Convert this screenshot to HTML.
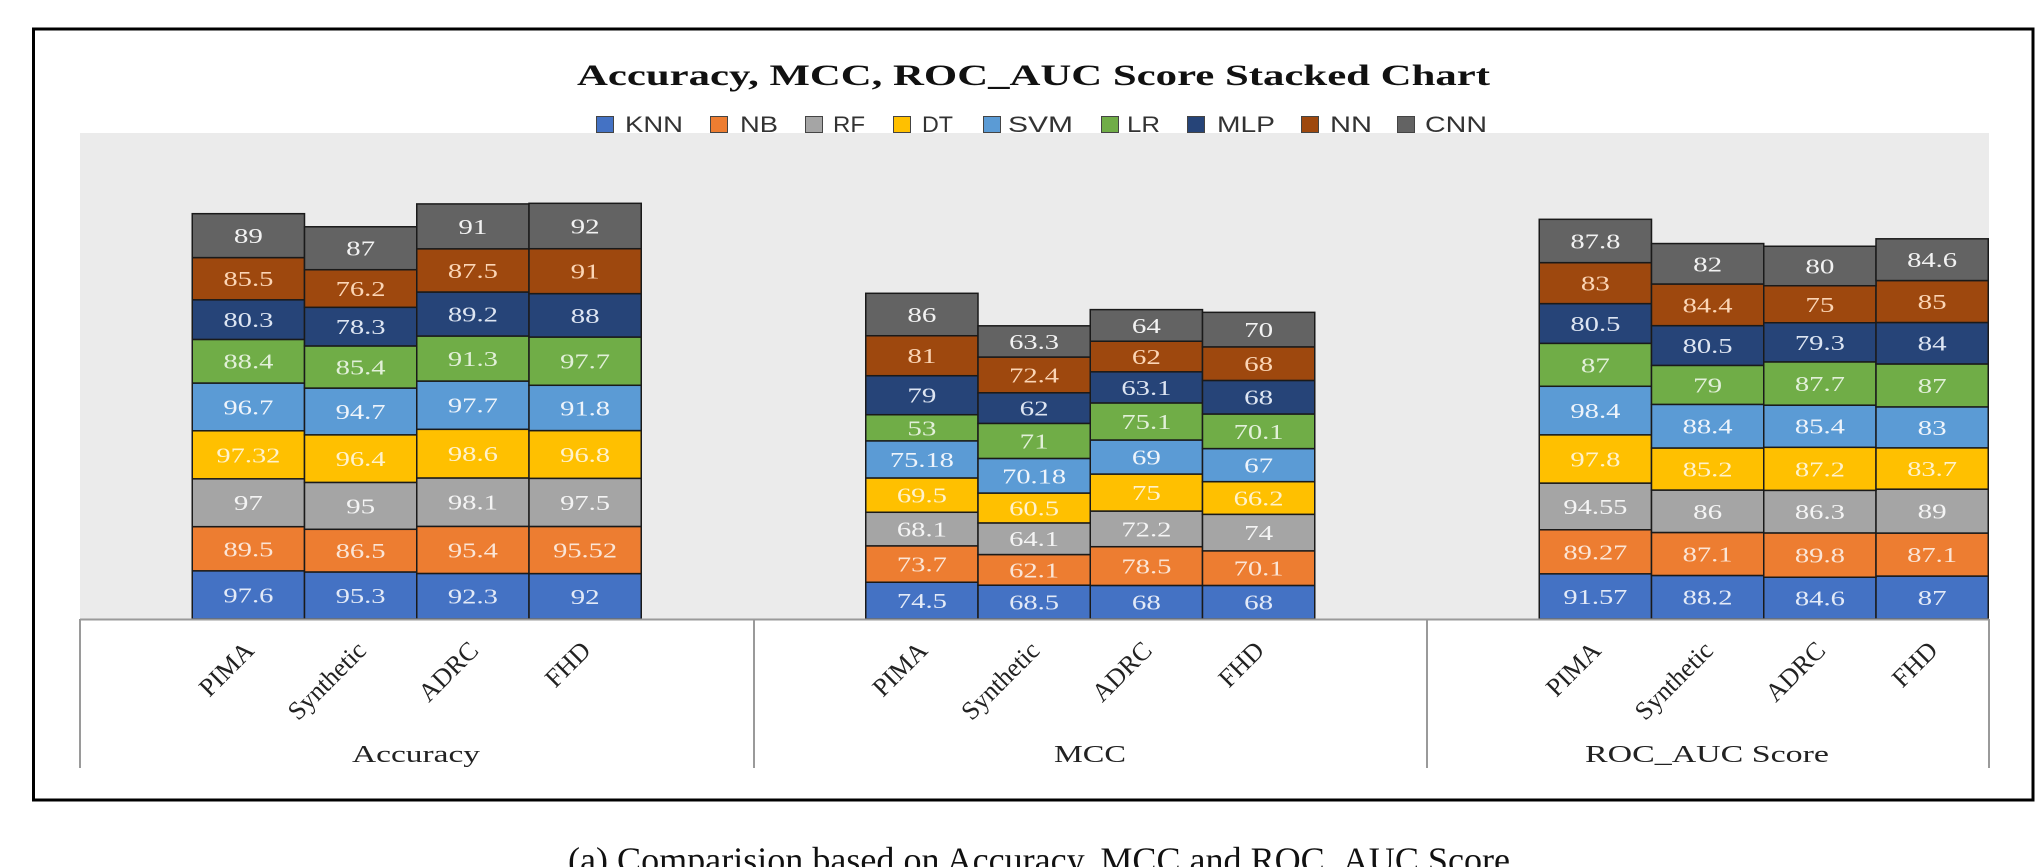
<!DOCTYPE html>
<html>
<head>
<meta charset="utf-8">
<style>
  html, body { margin: 0; padding: 0; background: #ffffff; }
  svg { display: block; }
  .k { fill: #4472C4; } .n { fill: #ED7D31; } .r { fill: #A5A5A5; } .d { fill: #FFC000; }
  .s { fill: #5B9BD5; } .l { fill: #70AD47; } .m { fill: #264478; } .nn { fill: #9E480E; } .c { fill: #636363; }
  .bars rect { stroke: #1a1a1a; stroke-width: 1.5; }
  .lbl text { font-family: "Liberation Serif", "Times New Roman", serif; font-size: 21.5px; text-anchor: middle; }
  .tk { fill: #E3EAF7; } .tn { fill: #FBE5D6; } .tr { fill: #F4F4F4; } .td { fill: #FFF2CC; }
  .ts { fill: #EEF4FB; } .tl { fill: #E2F0D9; } .tm { fill: #DDE5F2; } .tnn { fill: #FBD5B5; } .tc { fill: #F2F2F2; }
  .leg rect { stroke: #444; stroke-width: 1; }
  .leg text { font-family: "Liberation Sans", Arial, sans-serif; font-size: 22px; fill: #333333; }
  .ax text { font-family: "Liberation Serif", "Times New Roman", serif; fill: #222; }
</style>
</head>
<body>
<svg width="2037" height="867" viewBox="0 0 2037 867" xmlns="http://www.w3.org/2000/svg">
  <rect x="0" y="0" width="2037" height="867" fill="#ffffff"/>
  <!-- outer frame -->
  <rect x="33.5" y="29" width="1999.5" height="771" fill="none" stroke="#000" stroke-width="3"/>

  <!-- title -->
  <text x="577" y="85" font-family="Liberation Serif, Times New Roman, serif" font-weight="bold" font-size="30" fill="#111" textLength="913" lengthAdjust="spacingAndGlyphs">Accuracy, MCC, ROC_AUC Score Stacked Chart</text>

  <!-- plot area -->
  <rect x="80" y="133" width="1909" height="486" fill="#EBEBEB"/>

  <!-- legend (drawn above plot area) -->
  <g class="leg">
    <rect class="k" x="596.5" y="116.5" width="17" height="16"/><text x="625" y="132" textLength="58" lengthAdjust="spacingAndGlyphs">KNN</text>
    <rect class="n" x="710.5" y="116.5" width="17" height="16"/><text x="740" y="132" textLength="38" lengthAdjust="spacingAndGlyphs">NB</text>
    <rect class="r" x="805.5" y="116.5" width="17" height="16"/><text x="833" y="132" textLength="32" lengthAdjust="spacingAndGlyphs">RF</text>
    <rect class="d" x="893.5" y="116.5" width="17" height="16"/><text x="922" y="132" textLength="31" lengthAdjust="spacingAndGlyphs">DT</text>
    <rect class="s" x="983.5" y="116.5" width="17" height="16"/><text x="1008" y="132" textLength="65" lengthAdjust="spacingAndGlyphs">SVM</text>
    <rect class="l" x="1101.5" y="116.5" width="17" height="16"/><text x="1127" y="132" textLength="33" lengthAdjust="spacingAndGlyphs">LR</text>
    <rect class="m" x="1187.5" y="116.5" width="17" height="16"/><text x="1217" y="132" textLength="58" lengthAdjust="spacingAndGlyphs">MLP</text>
    <rect class="nn" x="1301.5" y="116.5" width="17" height="16"/><text x="1330" y="132" textLength="42" lengthAdjust="spacingAndGlyphs">NN</text>
    <rect class="c" x="1397.5" y="116.5" width="17" height="16"/><text x="1425" y="132" textLength="62" lengthAdjust="spacingAndGlyphs">CNN</text>
  </g>

  <!-- bars -->
  <g class="bars">
    <g class="k">
      <rect x="192.25" y="570.83" width="112.25" height="48.17"/>
      <rect x="304.5" y="571.97" width="112.25" height="47.03"/>
      <rect x="416.75" y="573.45" width="112.25" height="45.55"/>
      <rect x="529" y="573.60" width="112.25" height="45.40"/>
      <rect x="865.75" y="582.23" width="112.25" height="36.77"/>
      <rect x="978" y="585.20" width="112.25" height="33.80"/>
      <rect x="1090.25" y="585.44" width="112.25" height="33.56"/>
      <rect x="1202.5" y="585.44" width="112.25" height="33.56"/>
      <rect x="1539.25" y="573.81" width="112.25" height="45.19"/>
      <rect x="1651.5" y="575.47" width="112.25" height="43.53"/>
      <rect x="1763.75" y="577.25" width="112.25" height="41.75"/>
      <rect x="1876" y="576.07" width="112.25" height="42.93"/>
    </g>
    <g class="n">
      <rect x="192.25" y="526.67" width="112.25" height="44.16"/>
      <rect x="304.5" y="529.28" width="112.25" height="42.69"/>
      <rect x="416.75" y="526.37" width="112.25" height="47.08"/>
      <rect x="529" y="526.46" width="112.25" height="47.14"/>
      <rect x="865.75" y="545.86" width="112.25" height="36.37"/>
      <rect x="978" y="554.55" width="112.25" height="30.65"/>
      <rect x="1090.25" y="546.70" width="112.25" height="38.74"/>
      <rect x="1202.5" y="550.85" width="112.25" height="34.59"/>
      <rect x="1539.25" y="529.76" width="112.25" height="44.05"/>
      <rect x="1651.5" y="532.49" width="112.25" height="42.98"/>
      <rect x="1763.75" y="532.93" width="112.25" height="44.32"/>
      <rect x="1876" y="533.08" width="112.25" height="42.99"/>
    </g>
    <g class="r">
      <rect x="192.25" y="478.80" width="112.25" height="47.87"/>
      <rect x="304.5" y="482.40" width="112.25" height="46.88"/>
      <rect x="416.75" y="477.96" width="112.25" height="48.41"/>
      <rect x="529" y="478.34" width="112.25" height="48.12"/>
      <rect x="865.75" y="512.26" width="112.25" height="33.60"/>
      <rect x="978" y="522.92" width="112.25" height="31.63"/>
      <rect x="1090.25" y="511.07" width="112.25" height="35.63"/>
      <rect x="1202.5" y="514.33" width="112.25" height="36.52"/>
      <rect x="1539.25" y="483.10" width="112.25" height="46.66"/>
      <rect x="1651.5" y="490.05" width="112.25" height="42.44"/>
      <rect x="1763.75" y="490.35" width="112.25" height="42.58"/>
      <rect x="1876" y="489.16" width="112.25" height="43.92"/>
    </g>
    <g class="d">
      <rect x="192.25" y="430.77" width="112.25" height="48.03"/>
      <rect x="304.5" y="434.83" width="112.25" height="47.57"/>
      <rect x="416.75" y="429.30" width="112.25" height="48.66"/>
      <rect x="529" y="430.57" width="112.25" height="47.77"/>
      <rect x="865.75" y="477.96" width="112.25" height="34.30"/>
      <rect x="978" y="493.06" width="112.25" height="29.86"/>
      <rect x="1090.25" y="474.06" width="112.25" height="37.01"/>
      <rect x="1202.5" y="481.66" width="112.25" height="32.67"/>
      <rect x="1539.25" y="434.83" width="112.25" height="48.27"/>
      <rect x="1651.5" y="448.00" width="112.25" height="42.05"/>
      <rect x="1763.75" y="447.31" width="112.25" height="43.04"/>
      <rect x="1876" y="447.85" width="112.25" height="41.31"/>
    </g>
    <g class="s">
      <rect x="192.25" y="383.05" width="112.25" height="47.72"/>
      <rect x="304.5" y="388.09" width="112.25" height="46.74"/>
      <rect x="416.75" y="381.08" width="112.25" height="48.22"/>
      <rect x="529" y="385.27" width="112.25" height="45.30"/>
      <rect x="865.75" y="440.86" width="112.25" height="37.10"/>
      <rect x="978" y="458.43" width="112.25" height="34.63"/>
      <rect x="1090.25" y="440.01" width="112.25" height="34.05"/>
      <rect x="1202.5" y="448.59" width="112.25" height="33.07"/>
      <rect x="1539.25" y="386.27" width="112.25" height="48.56"/>
      <rect x="1651.5" y="404.38" width="112.25" height="43.62"/>
      <rect x="1763.75" y="405.17" width="112.25" height="42.14"/>
      <rect x="1876" y="406.89" width="112.25" height="40.96"/>
    </g>
    <g class="l">
      <rect x="192.25" y="339.42" width="112.25" height="43.63"/>
      <rect x="304.5" y="345.95" width="112.25" height="42.14"/>
      <rect x="416.75" y="336.03" width="112.25" height="45.05"/>
      <rect x="529" y="337.05" width="112.25" height="48.22"/>
      <rect x="865.75" y="414.70" width="112.25" height="26.16"/>
      <rect x="978" y="423.39" width="112.25" height="35.04"/>
      <rect x="1090.25" y="402.94" width="112.25" height="37.07"/>
      <rect x="1202.5" y="414.00" width="112.25" height="34.59"/>
      <rect x="1539.25" y="343.34" width="112.25" height="42.93"/>
      <rect x="1651.5" y="365.39" width="112.25" height="38.99"/>
      <rect x="1763.75" y="361.89" width="112.25" height="43.28"/>
      <rect x="1876" y="363.96" width="112.25" height="42.93"/>
    </g>
    <g class="m">
      <rect x="192.25" y="299.80" width="112.25" height="39.62"/>
      <rect x="304.5" y="307.31" width="112.25" height="38.64"/>
      <rect x="416.75" y="292.01" width="112.25" height="44.02"/>
      <rect x="529" y="293.63" width="112.25" height="43.42"/>
      <rect x="865.75" y="375.71" width="112.25" height="38.99"/>
      <rect x="978" y="392.79" width="112.25" height="30.60"/>
      <rect x="1090.25" y="371.80" width="112.25" height="31.14"/>
      <rect x="1202.5" y="380.44" width="112.25" height="33.56"/>
      <rect x="1539.25" y="303.61" width="112.25" height="39.73"/>
      <rect x="1651.5" y="325.66" width="112.25" height="39.73"/>
      <rect x="1763.75" y="322.75" width="112.25" height="39.14"/>
      <rect x="1876" y="322.50" width="112.25" height="41.46"/>
    </g>
    <g class="nn">
      <rect x="192.25" y="257.60" width="112.25" height="42.20"/>
      <rect x="304.5" y="269.70" width="112.25" height="37.61"/>
      <rect x="416.75" y="248.83" width="112.25" height="43.18"/>
      <rect x="529" y="248.72" width="112.25" height="44.91"/>
      <rect x="865.75" y="335.74" width="112.25" height="39.97"/>
      <rect x="978" y="357.06" width="112.25" height="35.73"/>
      <rect x="1090.25" y="341.21" width="112.25" height="30.59"/>
      <rect x="1202.5" y="346.88" width="112.25" height="33.56"/>
      <rect x="1539.25" y="262.65" width="112.25" height="40.96"/>
      <rect x="1651.5" y="284.01" width="112.25" height="41.65"/>
      <rect x="1763.75" y="285.74" width="112.25" height="37.01"/>
      <rect x="1876" y="280.56" width="112.25" height="41.94"/>
    </g>
    <g class="c">
      <rect x="192.25" y="213.68" width="112.25" height="43.92"/>
      <rect x="304.5" y="226.77" width="112.25" height="42.93"/>
      <rect x="416.75" y="203.92" width="112.25" height="44.91"/>
      <rect x="529" y="203.32" width="112.25" height="45.40"/>
      <rect x="865.75" y="293.30" width="112.25" height="42.44"/>
      <rect x="978" y="325.82" width="112.25" height="31.24"/>
      <rect x="1090.25" y="309.62" width="112.25" height="31.59"/>
      <rect x="1202.5" y="312.34" width="112.25" height="34.54"/>
      <rect x="1539.25" y="219.32" width="112.25" height="43.33"/>
      <rect x="1651.5" y="243.55" width="112.25" height="40.46"/>
      <rect x="1763.75" y="246.26" width="112.25" height="39.48"/>
      <rect x="1876" y="238.81" width="112.25" height="41.75"/>
    </g>
  </g>

  <!-- data labels -->
  <g class="lbl">
    <g class="tk">
      <text x="248.4" y="602.4" textLength="50" lengthAdjust="spacingAndGlyphs">97.6</text>
      <text x="360.6" y="603.0" textLength="50" lengthAdjust="spacingAndGlyphs">95.3</text>
      <text x="472.9" y="603.7" textLength="50" lengthAdjust="spacingAndGlyphs">92.3</text>
      <text x="585.1" y="603.8" textLength="29" lengthAdjust="spacingAndGlyphs">92</text>
      <text x="921.9" y="608.1" textLength="50" lengthAdjust="spacingAndGlyphs">74.5</text>
      <text x="1034.1" y="609.6" textLength="50" lengthAdjust="spacingAndGlyphs">68.5</text>
      <text x="1146.4" y="609.7" textLength="29" lengthAdjust="spacingAndGlyphs">68</text>
      <text x="1258.6" y="609.7" textLength="29" lengthAdjust="spacingAndGlyphs">68</text>
      <text x="1595.4" y="603.9" textLength="64" lengthAdjust="spacingAndGlyphs">91.57</text>
      <text x="1707.6" y="604.7" textLength="50" lengthAdjust="spacingAndGlyphs">88.2</text>
      <text x="1819.9" y="605.6" textLength="50" lengthAdjust="spacingAndGlyphs">84.6</text>
      <text x="1932.1" y="605.0" textLength="29" lengthAdjust="spacingAndGlyphs">87</text>
    </g>
    <g class="tn">
      <text x="248.4" y="556.3" textLength="50" lengthAdjust="spacingAndGlyphs">89.5</text>
      <text x="360.6" y="558.1" textLength="50" lengthAdjust="spacingAndGlyphs">86.5</text>
      <text x="472.9" y="557.4" textLength="50" lengthAdjust="spacingAndGlyphs">95.4</text>
      <text x="585.1" y="557.5" textLength="64" lengthAdjust="spacingAndGlyphs">95.52</text>
      <text x="921.9" y="571.6" textLength="50" lengthAdjust="spacingAndGlyphs">73.7</text>
      <text x="1034.1" y="577.4" textLength="50" lengthAdjust="spacingAndGlyphs">62.1</text>
      <text x="1146.4" y="573.6" textLength="50" lengthAdjust="spacingAndGlyphs">78.5</text>
      <text x="1258.6" y="575.7" textLength="50" lengthAdjust="spacingAndGlyphs">70.1</text>
      <text x="1595.4" y="559.3" textLength="64" lengthAdjust="spacingAndGlyphs">89.27</text>
      <text x="1707.6" y="561.5" textLength="50" lengthAdjust="spacingAndGlyphs">87.1</text>
      <text x="1819.9" y="562.6" textLength="50" lengthAdjust="spacingAndGlyphs">89.8</text>
      <text x="1932.1" y="562.1" textLength="50" lengthAdjust="spacingAndGlyphs">87.1</text>
    </g>
    <g class="tr">
      <text x="248.4" y="510.2" textLength="29" lengthAdjust="spacingAndGlyphs">97</text>
      <text x="360.6" y="513.3" textLength="29" lengthAdjust="spacingAndGlyphs">95</text>
      <text x="472.9" y="509.7" textLength="50" lengthAdjust="spacingAndGlyphs">98.1</text>
      <text x="585.1" y="509.9" textLength="50" lengthAdjust="spacingAndGlyphs">97.5</text>
      <text x="921.9" y="536.6" textLength="50" lengthAdjust="spacingAndGlyphs">68.1</text>
      <text x="1034.1" y="546.2" textLength="50" lengthAdjust="spacingAndGlyphs">64.1</text>
      <text x="1146.4" y="536.4" textLength="50" lengthAdjust="spacingAndGlyphs">72.2</text>
      <text x="1258.6" y="540.1" textLength="29" lengthAdjust="spacingAndGlyphs">74</text>
      <text x="1595.4" y="513.9" textLength="64" lengthAdjust="spacingAndGlyphs">94.55</text>
      <text x="1707.6" y="518.8" textLength="29" lengthAdjust="spacingAndGlyphs">86</text>
      <text x="1819.9" y="519.1" textLength="50" lengthAdjust="spacingAndGlyphs">86.3</text>
      <text x="1932.1" y="518.6" textLength="29" lengthAdjust="spacingAndGlyphs">89</text>
    </g>
    <g class="td">
      <text x="248.4" y="462.3" textLength="64" lengthAdjust="spacingAndGlyphs">97.32</text>
      <text x="360.6" y="466.1" textLength="50" lengthAdjust="spacingAndGlyphs">96.4</text>
      <text x="472.9" y="461.1" textLength="50" lengthAdjust="spacingAndGlyphs">98.6</text>
      <text x="585.1" y="462.0" textLength="50" lengthAdjust="spacingAndGlyphs">96.8</text>
      <text x="921.9" y="502.6" textLength="50" lengthAdjust="spacingAndGlyphs">69.5</text>
      <text x="1034.1" y="515.5" textLength="50" lengthAdjust="spacingAndGlyphs">60.5</text>
      <text x="1146.4" y="500.1" textLength="29" lengthAdjust="spacingAndGlyphs">75</text>
      <text x="1258.6" y="505.5" textLength="50" lengthAdjust="spacingAndGlyphs">66.2</text>
      <text x="1595.4" y="466.5" textLength="50" lengthAdjust="spacingAndGlyphs">97.8</text>
      <text x="1707.6" y="476.5" textLength="50" lengthAdjust="spacingAndGlyphs">85.2</text>
      <text x="1819.9" y="476.3" textLength="50" lengthAdjust="spacingAndGlyphs">87.2</text>
      <text x="1932.1" y="476.0" textLength="50" lengthAdjust="spacingAndGlyphs">83.7</text>
    </g>
    <g class="ts">
      <text x="248.4" y="414.4" textLength="50" lengthAdjust="spacingAndGlyphs">96.7</text>
      <text x="360.6" y="419.0" textLength="50" lengthAdjust="spacingAndGlyphs">94.7</text>
      <text x="472.9" y="412.7" textLength="50" lengthAdjust="spacingAndGlyphs">97.7</text>
      <text x="585.1" y="415.4" textLength="50" lengthAdjust="spacingAndGlyphs">91.8</text>
      <text x="921.9" y="466.9" textLength="64" lengthAdjust="spacingAndGlyphs">75.18</text>
      <text x="1034.1" y="483.3" textLength="64" lengthAdjust="spacingAndGlyphs">70.18</text>
      <text x="1146.4" y="464.5" textLength="29" lengthAdjust="spacingAndGlyphs">69</text>
      <text x="1258.6" y="472.6" textLength="29" lengthAdjust="spacingAndGlyphs">67</text>
      <text x="1595.4" y="418.1" textLength="50" lengthAdjust="spacingAndGlyphs">98.4</text>
      <text x="1707.6" y="433.7" textLength="50" lengthAdjust="spacingAndGlyphs">88.4</text>
      <text x="1819.9" y="433.7" textLength="50" lengthAdjust="spacingAndGlyphs">85.4</text>
      <text x="1932.1" y="434.9" textLength="29" lengthAdjust="spacingAndGlyphs">83</text>
    </g>
    <g class="tl">
      <text x="248.4" y="368.7" textLength="50" lengthAdjust="spacingAndGlyphs">88.4</text>
      <text x="360.6" y="374.5" textLength="50" lengthAdjust="spacingAndGlyphs">85.4</text>
      <text x="472.9" y="366.1" textLength="50" lengthAdjust="spacingAndGlyphs">91.3</text>
      <text x="585.1" y="368.7" textLength="50" lengthAdjust="spacingAndGlyphs">97.7</text>
      <text x="921.9" y="435.3" textLength="29" lengthAdjust="spacingAndGlyphs">53</text>
      <text x="1034.1" y="448.4" textLength="29" lengthAdjust="spacingAndGlyphs">71</text>
      <text x="1146.4" y="429.0" textLength="50" lengthAdjust="spacingAndGlyphs">75.1</text>
      <text x="1258.6" y="438.8" textLength="50" lengthAdjust="spacingAndGlyphs">70.1</text>
      <text x="1595.4" y="372.3" textLength="29" lengthAdjust="spacingAndGlyphs">87</text>
      <text x="1707.6" y="392.4" textLength="29" lengthAdjust="spacingAndGlyphs">79</text>
      <text x="1819.9" y="391.0" textLength="50" lengthAdjust="spacingAndGlyphs">87.7</text>
      <text x="1932.1" y="392.9" textLength="29" lengthAdjust="spacingAndGlyphs">87</text>
    </g>
    <g class="tm">
      <text x="248.4" y="327.1" textLength="50" lengthAdjust="spacingAndGlyphs">80.3</text>
      <text x="360.6" y="334.1" textLength="50" lengthAdjust="spacingAndGlyphs">78.3</text>
      <text x="472.9" y="321.5" textLength="50" lengthAdjust="spacingAndGlyphs">89.2</text>
      <text x="585.1" y="322.8" textLength="29" lengthAdjust="spacingAndGlyphs">88</text>
      <text x="921.9" y="402.7" textLength="29" lengthAdjust="spacingAndGlyphs">79</text>
      <text x="1034.1" y="415.6" textLength="29" lengthAdjust="spacingAndGlyphs">62</text>
      <text x="1146.4" y="394.9" textLength="50" lengthAdjust="spacingAndGlyphs">63.1</text>
      <text x="1258.6" y="404.7" textLength="29" lengthAdjust="spacingAndGlyphs">68</text>
      <text x="1595.4" y="331.0" textLength="50" lengthAdjust="spacingAndGlyphs">80.5</text>
      <text x="1707.6" y="353.0" textLength="50" lengthAdjust="spacingAndGlyphs">80.5</text>
      <text x="1819.9" y="349.8" textLength="50" lengthAdjust="spacingAndGlyphs">79.3</text>
      <text x="1932.1" y="350.7" textLength="29" lengthAdjust="spacingAndGlyphs">84</text>
    </g>
    <g class="tnn">
      <text x="248.4" y="286.2" textLength="50" lengthAdjust="spacingAndGlyphs">85.5</text>
      <text x="360.6" y="296.0" textLength="50" lengthAdjust="spacingAndGlyphs">76.2</text>
      <text x="472.9" y="277.9" textLength="50" lengthAdjust="spacingAndGlyphs">87.5</text>
      <text x="585.1" y="278.7" textLength="29" lengthAdjust="spacingAndGlyphs">91</text>
      <text x="921.9" y="363.2" textLength="29" lengthAdjust="spacingAndGlyphs">81</text>
      <text x="1034.1" y="382.4" textLength="50" lengthAdjust="spacingAndGlyphs">72.4</text>
      <text x="1146.4" y="364.0" textLength="29" lengthAdjust="spacingAndGlyphs">62</text>
      <text x="1258.6" y="371.2" textLength="29" lengthAdjust="spacingAndGlyphs">68</text>
      <text x="1595.4" y="290.6" textLength="29" lengthAdjust="spacingAndGlyphs">83</text>
      <text x="1707.6" y="312.3" textLength="50" lengthAdjust="spacingAndGlyphs">84.4</text>
      <text x="1819.9" y="311.8" textLength="29" lengthAdjust="spacingAndGlyphs">75</text>
      <text x="1932.1" y="309.0" textLength="29" lengthAdjust="spacingAndGlyphs">85</text>
    </g>
    <g class="tc">
      <text x="248.4" y="243.1" textLength="29" lengthAdjust="spacingAndGlyphs">89</text>
      <text x="360.6" y="255.7" textLength="29" lengthAdjust="spacingAndGlyphs">87</text>
      <text x="472.9" y="233.9" textLength="29" lengthAdjust="spacingAndGlyphs">91</text>
      <text x="585.1" y="233.5" textLength="29" lengthAdjust="spacingAndGlyphs">92</text>
      <text x="921.9" y="322.0" textLength="29" lengthAdjust="spacingAndGlyphs">86</text>
      <text x="1034.1" y="348.9" textLength="50" lengthAdjust="spacingAndGlyphs">63.3</text>
      <text x="1146.4" y="332.9" textLength="29" lengthAdjust="spacingAndGlyphs">64</text>
      <text x="1258.6" y="337.1" textLength="29" lengthAdjust="spacingAndGlyphs">70</text>
      <text x="1595.4" y="248.5" textLength="50" lengthAdjust="spacingAndGlyphs">87.8</text>
      <text x="1707.6" y="271.3" textLength="29" lengthAdjust="spacingAndGlyphs">82</text>
      <text x="1819.9" y="273.5" textLength="29" lengthAdjust="spacingAndGlyphs">80</text>
      <text x="1932.1" y="267.2" textLength="50" lengthAdjust="spacingAndGlyphs">84.6</text>
    </g>
  </g>

  <!-- category axis -->
  <g stroke="#9a9a9a" stroke-width="2" fill="none">
    <line x1="80" y1="619.5" x2="1989" y2="619.5"/>
    <line x1="80" y1="619" x2="80" y2="768"/>
    <line x1="754" y1="619" x2="754" y2="768"/>
    <line x1="1427" y1="619" x2="1427" y2="768"/>
    <line x1="1989" y1="619" x2="1989" y2="768"/>
  </g>
  <g class="ax" font-size="26" text-anchor="end">
    <text transform="translate(255.4,652) rotate(-45)">PIMA</text>
    <text transform="translate(367.6,652) rotate(-45)">Synthetic</text>
    <text transform="translate(479.9,652) rotate(-45)">ADRC</text>
    <text transform="translate(592.1,652) rotate(-45)">FHD</text>
    <text transform="translate(928.9,652) rotate(-45)">PIMA</text>
    <text transform="translate(1041.1,652) rotate(-45)">Synthetic</text>
    <text transform="translate(1153.4,652) rotate(-45)">ADRC</text>
    <text transform="translate(1265.6,652) rotate(-45)">FHD</text>
    <text transform="translate(1602.4,652) rotate(-45)">PIMA</text>
    <text transform="translate(1714.6,652) rotate(-45)">Synthetic</text>
    <text transform="translate(1826.9,652) rotate(-45)">ADRC</text>
    <text transform="translate(1939.1,652) rotate(-45)">FHD</text>
  </g>
  <g class="ax" font-size="24">
    <text x="352" y="762" textLength="128" lengthAdjust="spacingAndGlyphs">Accuracy</text>
    <text x="1054" y="762" textLength="72" lengthAdjust="spacingAndGlyphs">MCC</text>
    <text x="1585" y="762" textLength="244" lengthAdjust="spacingAndGlyphs">ROC_AUC Score</text>
  </g>

  <!-- caption -->
  <text x="568" y="872" font-family="Liberation Serif, Times New Roman, serif" font-size="36" fill="#111" textLength="942" lengthAdjust="spacingAndGlyphs">(a) Comparision based on Accuracy, MCC and ROC_AUC Score</text>
</svg>
</body>
</html>
